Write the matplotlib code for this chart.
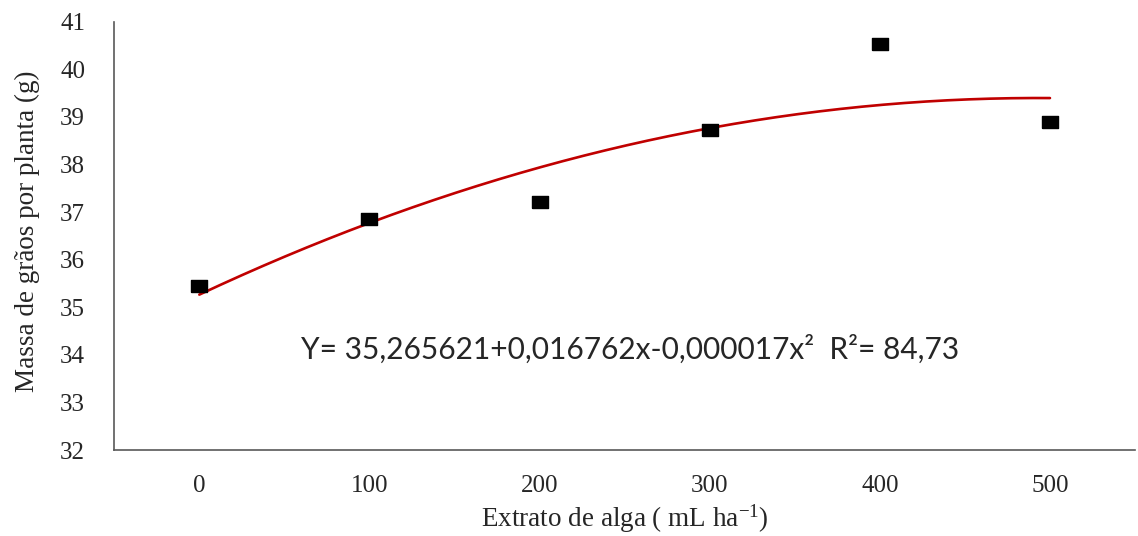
import numpy as np
import matplotlib.pyplot as plt

# doses of seaweed extract and observed means
doses = [0, 100, 200, 300, 400, 500]
massa = [35.45, 36.86, 37.21, 38.72, 40.54, 38.89]

# fitted quadratic shown on the chart (c0 + c1*x + c2*x^2)
coef = [35.265621, 0.016762, -0.000017]
eq_text = "Y= 35,265621+0,016762x-0,000017x\u00b2  R\u00b2= 84,73"

yticks = [32, 33, 34, 35, 36, 37, 38, 39, 40, 41]

plt.rcParams['mathtext.fontset'] = 'custom'
plt.rcParams['mathtext.rm'] = 'Liberation Serif'

fig = plt.figure(figsize=(11.38, 5.36), dpi=100)
ax = fig.add_axes([0.1004, 0.1604, 0.897, 0.799])

xs = np.linspace(doses[0], doses[-1], 200)
fit = np.polynomial.Polynomial(coef)(xs)
ax.plot(xs, fit, color='#C00000', lw=1.9, solid_capstyle='round', zorder=2)

sq = [(-1, -0.78), (1, -0.78), (1, 0.78), (-1, 0.78), (-1, -0.78)]
ax.plot(doses, massa, linestyle='none', marker=sq, markersize=11.3,
        color='black', zorder=3)

ax.set_xlim(-50, 550)
ax.set_ylim(32, 41)
ax.set_xticks(doses)
ax.set_yticks(yticks)

serif = 'Liberation Serif'
ax.set_xticklabels([str(d) for d in doses], family=serif, fontsize=18, color='#262626')
ax.set_yticklabels([str(v) for v in yticks], family=serif, fontsize=18, color='#262626')
ax.tick_params(axis='both', length=0)
ax.tick_params(axis='y', pad=21)
ax.tick_params(axis='x', pad=18)

for s in ['top', 'right']:
    ax.spines[s].set_visible(False)
for s in ['left', 'bottom']:
    ax.spines[s].set_color('#595959')
    ax.spines[s].set_linewidth(1.2)

ax.set_ylabel('Massa de grãos por planta (g)', family=serif, fontsize=19.5, color='#262626')
ax.yaxis.set_label_coords(-0.073, 0.51)
ax.set_xlabel(r'Extrato de alga ( mL ha$\mathregular{^{-1}}$)', family=serif,
              fontsize=19.5, color='#262626')
ax.xaxis.set_label_coords(0.50, -0.122)

ax.text(0.505, 0.235, eq_text, transform=ax.transAxes, ha='center', va='center',
        family='Lato', fontsize=21.5, color='#262626')

fig.savefig('out.png', dpi=100)
